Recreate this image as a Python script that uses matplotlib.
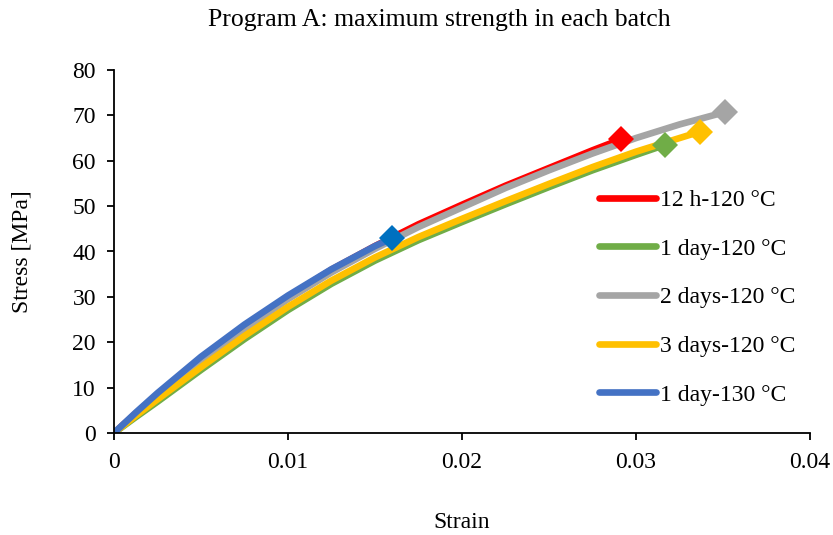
import matplotlib
matplotlib.use("Agg")
import matplotlib.pyplot as plt

plt.rcParams['font.family'] = ['Liberation Serif', 'DejaVu Serif']

labels = ["12 h-120 °C", "1 day-120 °C", "2 days-120 °C", "3 days-120 °C", "1 day-130 °C"]
line_colors = ["#FF0000", "#70AD47", "#A5A5A5", "#FFC000", "#4472C4"]
marker_colors = ["#FF0000", "#70AD47", "#A5A5A5", "#FFC000", "#0070C0"]

strain_red = [0, 0.00125, 0.0025, 0.005, 0.0075, 0.01, 0.0125, 0.015, 0.0175, 0.02, 0.0225, 0.025, 0.0275, 0.02912]
stress_red = [0, 4.3, 8.4, 16.2, 23.3, 30.0, 36.0, 41.2, 46.0, 50.3, 54.5, 58.4, 62.3, 64.7]

strain_green = [0, 0.00125, 0.0025, 0.005, 0.0075, 0.01, 0.0125, 0.015, 0.0175, 0.02, 0.0225, 0.025, 0.0275, 0.03, 0.03167]
stress_green = [0, 3.5, 6.9, 13.9, 20.7, 27.1, 32.9, 38.0, 42.5, 46.5, 50.4, 54.2, 57.9, 61.3, 63.5]

strain_gray = [0, 0.00125, 0.0025, 0.005, 0.0075, 0.01, 0.0125, 0.015, 0.0175, 0.02, 0.0225, 0.025, 0.0275, 0.03, 0.0325, 0.0351]
stress_gray = [0, 4.2, 8.2, 15.9, 22.9, 29.5, 35.4, 40.6, 45.4, 49.7, 54.0, 57.9, 61.6, 65.0, 68.0, 70.7]

strain_yellow = [0, 0.00125, 0.0025, 0.005, 0.0075, 0.01, 0.0125, 0.015, 0.0175, 0.02, 0.0225, 0.025, 0.0275, 0.03, 0.0325, 0.03368]
stress_yellow = [0, 3.8, 7.4, 14.5, 21.4, 27.8, 33.6, 38.7, 43.2, 47.2, 51.1, 54.9, 58.6, 62.0, 65.0, 66.4]

strain_blue = [0, 0.00125, 0.0025, 0.005, 0.0075, 0.01, 0.0125, 0.015, 0.01596]
stress_blue = [0, 4.5, 8.8, 16.8, 23.9, 30.3, 36.1, 41.2, 42.9]

series_x = [strain_red, strain_green, strain_gray, strain_yellow, strain_blue]
series_y = [stress_red, stress_green, stress_gray, stress_yellow, stress_blue]

x_ticks = [0, 0.01, 0.02, 0.03, 0.04]
x_tick_labels = ["0", "0.01", "0.02", "0.03", "0.04"]
y_ticks = [0, 10, 20, 30, 40, 50, 60, 70, 80]

fig = plt.figure(figsize=(8.33, 5.35), dpi=100)
ax = fig.add_axes([114/833, 1-433/535, (810-114)/833, (433-70)/535])

fs = 17
handles = []
for xs, ys, lc, mc, lab in zip(series_x, series_y, line_colors, marker_colors, labels):
    h, = ax.plot(xs, ys, color=lc, lw=4.8, solid_capstyle='round', solid_joinstyle='round',
                 label=lab, zorder=2)
    handles.append(h)
for xs, ys, mc in zip(series_x, series_y, marker_colors):
    ax.plot([xs[-1]], [ys[-1]], marker='D', markersize=13, color=mc, markeredgewidth=0, zorder=3)

ax.set_xlim(0, 0.04)
ax.set_ylim(0, 80)
ax.set_xticks(x_ticks)
ax.set_xticklabels(x_tick_labels)
ax.set_yticks(y_ticks)
for s in ['top', 'right']:
    ax.spines[s].set_visible(False)
for s in ['left', 'bottom']:
    ax.spines[s].set_linewidth(1.3)
    ax.spines[s].set_color('black')
ax.tick_params(direction='out', length=5, width=1.3, labelsize=fs)
ax.tick_params(axis='x', pad=9)
ax.tick_params(axis='y', pad=8)

ax.set_xlabel("Strain", fontsize=fs)
ax.xaxis.set_label_coords((462-114)/(810-114), -(522-433)/(433-70))
ax.set_ylabel("Stress [MPa]", fontsize=fs)
ax.yaxis.set_label_coords(-(114-22)/(810-114), 0.5)
ax.yaxis.label.set_va('center')
ax.xaxis.label.set_va('center')

fig.text(439/833, 1-20/535, "Program A: maximum strength in each batch", ha='center', va='center', fontsize=18.5)

leg = fig.legend(handles=handles, loc='upper left', bbox_to_anchor=(590/833, 1-180/535),
                 frameon=False, fontsize=fs, handlelength=2.4, handletextpad=0.15,
                 labelspacing=1.15, borderaxespad=0)

fig.savefig("out.png", dpi=100)
